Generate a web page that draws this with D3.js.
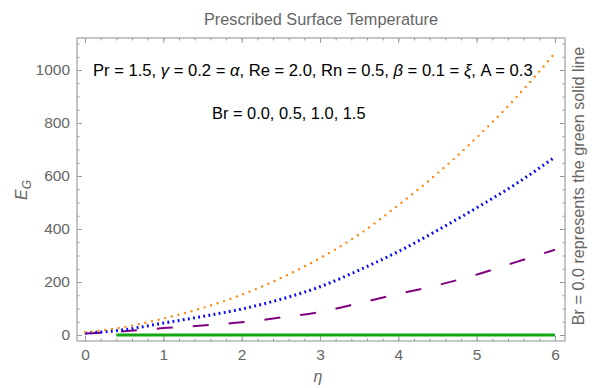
<!DOCTYPE html>
<html>
<head>
<meta charset="utf-8">
<style>
  body { margin: 0; background: #fff; }
  svg text { font-family: "Liberation Sans", Arial, sans-serif; }
</style>
<title>Prescribed Surface Temperature</title>
</head>
<body>
<script src="https://cdn.jsdelivr.net/npm/d3@7"></script>
<script>

// data
var eta = [0, 0.5, 1, 1.5, 2, 2.5, 3, 3.5, 4, 4.5, 5, 5.5, 6];
var br15 = [10, 30, 62, 102, 152, 215, 290, 380, 490, 610, 745, 895, 1064];
var br10 = [7, 20, 45, 70, 98, 135, 182, 245, 315, 395, 480, 570, 672];
var br05 = [6, 14, 26, 36, 48, 66, 87, 120, 155, 188, 228, 275, 322];
var br00Eta = [0.4, 6];
var br00 = [0, 0];

var xTicks = [0, 1, 2, 3, 4, 5, 6];
var yTicks = [0, 200, 400, 600, 800, 1000];

var W = 592, H = 388;
var margin = {top: 38, right: 27, bottom: 47, left: 77};
var width = W - margin.left - margin.right,
    height = H - margin.top - margin.bottom;

var svg = d3.select("body").append("svg")
    .attr("width", W)
    .attr("height", H);

var g = svg.append("g")
    .attr("transform", "translate(" + margin.left + "," + margin.top + ")");

var x = d3.scaleLinear().domain([-0.102, 6.128]).range([0, width]);
var y = d3.scaleLinear().domain([-22.6, 1120.8]).range([height, 0]);

var tickCol = "#999";
var labCol = "#666";

function styleAxis(sel, labels) {
  sel.select(".domain").remove();
  sel.selectAll(".tick line").attr("stroke", tickCol);
  sel.selectAll(".tick text")
     .attr("fill", labCol)
     .style("font-size", "15.5px")
     .style("font-family", "'Liberation Sans', Arial, sans-serif");
  if (!labels) sel.selectAll(".tick text").remove();
}

var xMinor = d3.range(0, 6.01, 0.2);
var yMinor = d3.range(0, 1101, 50);

// minor ticks on all sides
styleAxis(g.append("g").attr("transform", "translate(0," + height + ")")
  .call(d3.axisBottom(x).tickValues(xMinor).tickSizeInner(-2.5).tickSizeOuter(0)), false);
styleAxis(g.append("g")
  .call(d3.axisTop(x).tickValues(xMinor).tickSizeInner(-2.5).tickSizeOuter(0)), false);
styleAxis(g.append("g")
  .call(d3.axisLeft(y).tickValues(yMinor).tickSizeInner(-2.5).tickSizeOuter(0)), false);
styleAxis(g.append("g").attr("transform", "translate(" + width + ",0)")
  .call(d3.axisRight(y).tickValues(yMinor).tickSizeInner(-2.5).tickSizeOuter(0)), false);

// major ticks
styleAxis(g.append("g").attr("transform", "translate(0," + height + ")")
  .call(d3.axisBottom(x).tickValues(xTicks).tickSizeInner(-5).tickSizeOuter(0)
    .tickPadding(8).tickFormat(d3.format("d"))), true);
styleAxis(g.append("g")
  .call(d3.axisTop(x).tickValues(xTicks).tickSizeInner(-5).tickSizeOuter(0)), false);
styleAxis(g.append("g")
  .call(d3.axisLeft(y).tickValues(yTicks).tickSizeInner(-5).tickSizeOuter(0)
    .tickPadding(7).tickFormat(d3.format("d"))), true);
styleAxis(g.append("g").attr("transform", "translate(" + width + ",0)")
  .call(d3.axisRight(y).tickValues(yTicks).tickSizeInner(-5).tickSizeOuter(0)), false);

// frame
g.append("rect")
  .attr("width", width).attr("height", height)
  .attr("fill", "none").attr("stroke", "#a0a0a0").attr("stroke-width", 1.2);

var line = d3.line()
  .x(function(d) { return x(d[0]); })
  .y(function(d) { return y(d[1]); })
  .curve(d3.curveMonotoneX);

function pairs(xs, ys) { return xs.map(function(v, i) { return [v, ys[i]]; }); }

g.append("path").datum(pairs(br00Eta, br00))
  .attr("d", line).attr("fill", "none")
  .attr("stroke", "#13a813").attr("stroke-width", 3);

g.append("path").datum(pairs(eta, br05))
  .attr("d", line).attr("fill", "none")
  .attr("stroke", "#800080").attr("stroke-width", 2)
  .attr("stroke-dasharray", "16,20");

g.append("path").datum(pairs(eta, br10))
  .attr("d", line).attr("fill", "none")
  .attr("stroke", "#0000ff").attr("stroke-width", 3)
  .attr("stroke-dasharray", "1.8,3.4");

g.append("path").datum(pairs(eta, br15))
  .attr("d", line).attr("fill", "none")
  .attr("stroke", "#ff8a10").attr("stroke-width", 2.4)
  .attr("stroke-linecap", "round")
  .attr("stroke-dasharray", "0,6.8");

// annotations inside the frame
var t1 = svg.append("text").attr("x", 93).attr("y", 76)
  .attr("fill", "#000").style("font-size", "16.6px");
t1.append("tspan").text("Pr = 1.5, ");
t1.append("tspan").style("font-style", "italic").text("γ");
t1.append("tspan").text(" = 0.2 = ");
t1.append("tspan").style("font-style", "italic").text("α");
t1.append("tspan").text(", Re = 2.0, Rn = 0.5, ");
t1.append("tspan").style("font-style", "italic").text("β");
t1.append("tspan").text(" = 0.1 = ");
t1.append("tspan").style("font-style", "italic").text("ξ");
t1.append("tspan").text(", A = 0.3");

svg.append("text").attr("x", 212).attr("y", 119)
  .attr("fill", "#000").style("font-size", "16.4px")
  .text("Br = 0.0, 0.5, 1.0, 1.5");

// title and labels
svg.append("text").attr("x", 321).attr("y", 25)
  .attr("text-anchor", "middle").attr("fill", labCol)
  .style("font-size", "16.3px").text("Prescribed Surface Temperature");

var yl = svg.append("text")
  .attr("transform", "translate(27,190) rotate(-90)")
  .attr("text-anchor", "middle").attr("fill", labCol)
  .style("font-size", "16px").style("font-style", "italic");
yl.append("tspan").text("E");
yl.append("tspan").attr("dy", 4).style("font-size", "12px").text("G");

svg.append("text").attr("x", 318).attr("y", 382)
  .attr("text-anchor", "middle").attr("fill", labCol)
  .style("font-size", "16px").style("font-style", "italic").text("η");

svg.append("text")
  .attr("transform", "translate(584,186) rotate(-90)")
  .attr("text-anchor", "middle").attr("fill", labCol)
  .style("font-size", "16.2px")
  .text("Br = 0.0 represents the green solid line");

</script>
</body>
</html>
